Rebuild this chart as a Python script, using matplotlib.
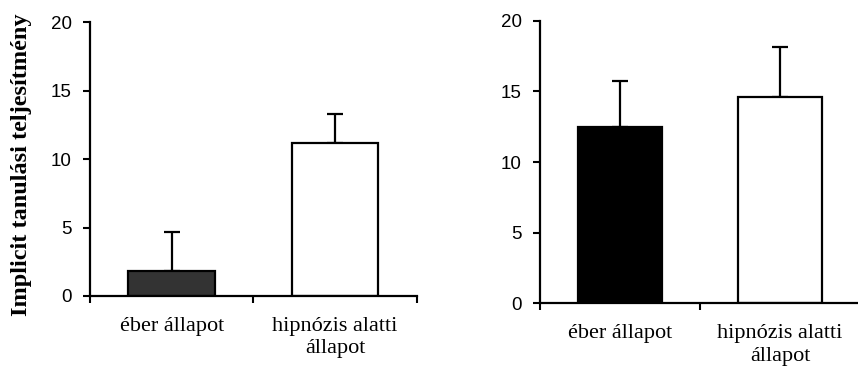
import matplotlib
matplotlib.use("Agg")
import matplotlib.pyplot as plt

categories = ["éber állapot", "hipnózis alatti\nállapot"]
left_values = [1.85, 11.15]
left_errors = [2.85, 2.15]
right_values = [12.48, 14.62]
right_errors = [3.25, 3.5]
y_ticks = [0, 5, 10, 15, 20]
y_label = "Implicit tanulási teljesítmény"

fig = plt.figure(figsize=(8.58, 3.70), dpi=100)
ax1 = fig.add_axes([0.1049, 0.2, 0.381, 0.7405])
ax2 = fig.add_axes([0.6294, 0.180, 0.373, 0.764])

def draw(ax, values, errors, colors, label_pad):
    x = list(range(len(values)))
    ax.bar(x, values, width=0.53, color=colors, edgecolor="black", linewidth=1.6, zorder=2)
    ax.errorbar(x, values, yerr=[[0]*len(errors), errors], fmt="none", ecolor="black",
                elinewidth=1.6, capsize=5.5, capthick=1.6, zorder=1)
    ax.set_xlim(-0.5, 1.5)
    ax.set_ylim(0, 20)
    ax.set_yticks(y_ticks)
    ax.set_yticklabels([str(t) for t in y_ticks], fontsize=13.5, family="Liberation Sans")
    ax.set_xticks([-0.5, 0.5, 1.5])
    ax.set_xticklabels([])
    ax.set_xticks(x, minor=True)
    ax.set_xticklabels(categories, minor=True, fontsize=16, family="Liberation Serif",
                       linespacing=1.25)
    ax.tick_params(axis="x", which="minor", length=0, pad=label_pad)
    ax.tick_params(axis="both", which="major", direction="out", length=5, width=1.5)
    ax.tick_params(axis="y", pad=8)
    for s in ["top", "right"]:
        ax.spines[s].set_visible(False)
    for s in ["left", "bottom"]:
        ax.spines[s].set_linewidth(1.6)
        ax.spines[s].set_zorder(3)

draw(ax1, left_values, left_errors, ["#333333", "white"], 15)
draw(ax2, right_values, right_errors, ["black", "white"], 15)

ax1.set_ylabel(y_label, fontsize=17.5, fontweight="bold", family="Liberation Serif")
ax1.yaxis.set_label_coords(-0.176, 0.48)

fig.savefig("out.png", dpi=100)
